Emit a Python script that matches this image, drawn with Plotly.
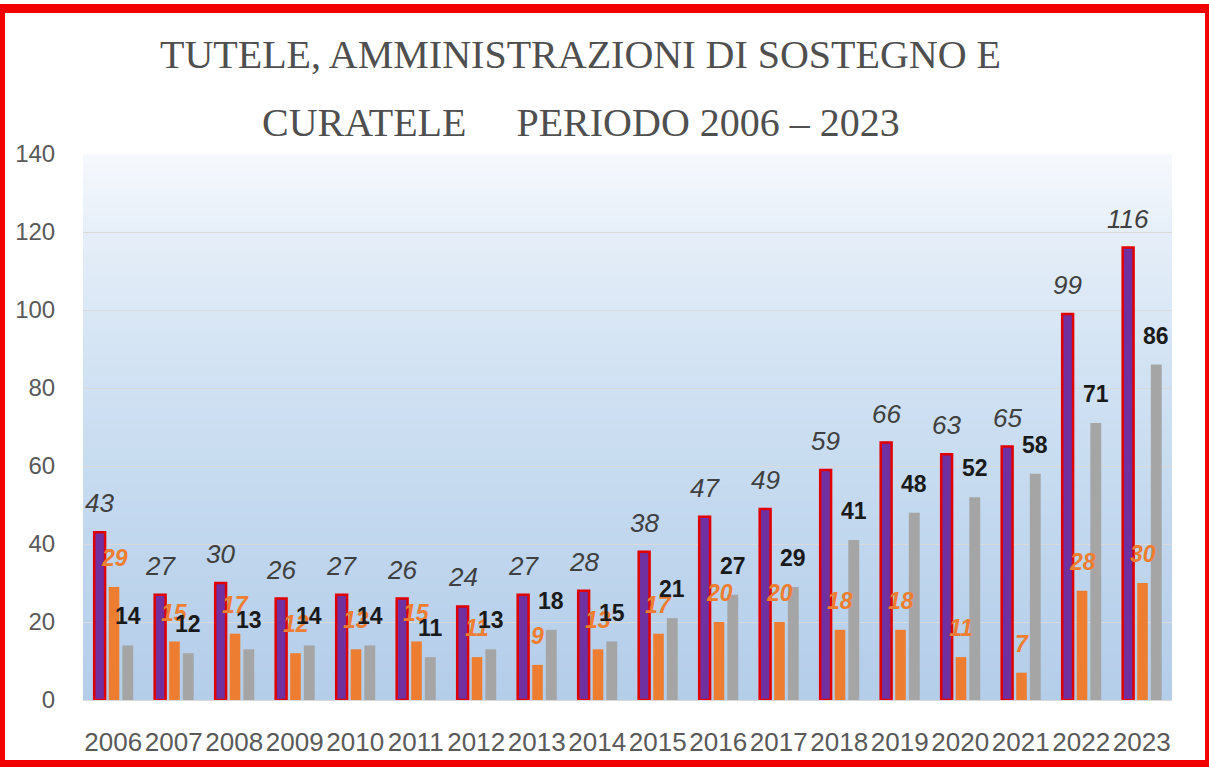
import base64
import struct
import zlib
import plotly.graph_objects as go

# ---------------- data ----------------
years = list(range(2006, 2024))
totale = [43, 27, 30, 26, 27, 26, 24, 27, 28, 38, 47, 49, 59, 66, 63, 65, 99, 116]
serie_arancio = [29, 15, 17, 12, 13, 15, 11, 9, 13, 17, 20, 20, 18, 18, 11, 7, 28, 30]
serie_grigia = [14, 12, 13, 14, 14, 11, 13, 18, 15, 21, 27, 29, 41, 48, 52, 58, 71, 86]
y_ticks = [0, 20, 40, 60, 80, 100, 120, 140]
x_tick_labels = [str(y) for y in years]
title_line1 = "TUTELE, AMMINISTRAZIONI DI SOSTEGNO E"
title_line2 = "CURATELE&nbsp;&nbsp;&nbsp;&nbsp;&nbsp;PERIODO 2006 – 2023"

# ---------------- geometry ----------------
W, H = 1209, 767
L, R, T, B = 83, 37, 154, 67
PW, PH = W - L - R, H - T - B


def px_x(px):
    return (px - L) / PW


def px_y(py):
    return (H - B - py) / PH


def gradient_png(stops, h=256, w=2):
    raw = b""
    for i in range(h):
        t = i / (h - 1)
        for j in range(len(stops) - 1):
            t0, c0 = stops[j]
            t1, c1 = stops[j + 1]
            if t0 <= t <= t1:
                f = (t - t0) / (t1 - t0) if t1 > t0 else 0
                col = [int(round(c0[k] + (c1[k] - c0[k]) * f)) for k in range(3)]
                break
        raw += b"\x00" + bytes(col) * w

    def chunk(tag, data):
        return (struct.pack(">I", len(data)) + tag + data
                + struct.pack(">I", zlib.crc32(tag + data) & 0xFFFFFFFF))

    png = (b"\x89PNG\r\n\x1a\n"
           + chunk(b"IHDR", struct.pack(">IIBBBBB", w, h, 8, 2, 0, 0, 0))
           + chunk(b"IDAT", zlib.compress(raw))
           + chunk(b"IEND", b""))
    return "data:image/png;base64," + base64.b64encode(png).decode()


bg_src = gradient_png([
    (0.0, (246, 249, 253)),
    (0.15, (229, 238, 248)),
    (0.4, (209, 226, 243)),
    (0.7, (193, 215, 238)),
    (1.0, (180, 205, 233)),
])

series = [
    dict(name="Totale", y=totale, color="#7030a0", line=dict(color="#e00000", width=2.5),
         offset=-0.315, width=0.18,
         font=dict(family="Liberation Sans", size=26, color="#404040"), fmt="<i>{}</i>"),
    dict(name="Serie 2", y=serie_arancio, color="#ed7d31", line=dict(width=0),
         offset=-0.075, width=0.175,
         font=dict(family="Liberation Sans", size=23, color="#ed7d31"), fmt="<b><i>{}</i></b>"),
    dict(name="Serie 3", y=serie_grigia, color="#a5a5a5", line=dict(width=0),
         offset=0.15, width=0.18,
         font=dict(family="Liberation Sans", size=23, color="#1a1a1a"), fmt="<b>{}</b>"),
]

fig = go.Figure()
annotations = []
for s in series:
    fig.add_trace(go.Bar(
        x=years, y=s["y"], name=s["name"],
        marker=dict(color=s["color"], line=s["line"]),
        offset=s["offset"], width=s["width"],
        hoverinfo="x+y",
    ))
    for yr, v in zip(years, s["y"]):
        annotations.append(dict(
            x=yr + s["offset"] + s["width"] / 2, y=v, xref="x", yref="y",
            text=s["fmt"].format(v),
            showarrow=False, yshift=29, yanchor="middle", xanchor="center",
            font=s["font"],
        ))

title_font = dict(family="Liberation Serif", size=40, color="#4f4f4f")
annotations.append(dict(x=px_x(580), y=px_y(55), xref="paper", yref="paper",
                        text=title_line1, showarrow=False, xanchor="center",
                        yanchor="middle", font=title_font))
annotations.append(dict(x=px_x(581), y=px_y(122), xref="paper", yref="paper",
                        text=title_line2, showarrow=False, xanchor="center",
                        yanchor="middle", font=title_font))

red = "#f20000"
frame_rects = [
    (0, 4, W, 13),      # top
    (0, 4, 5, H),       # left
    (W - 4, 4, W, H),   # right
    (0, H - 7, W, H),   # bottom
]
shapes = [
    dict(type="rect", xref="paper", yref="paper",
         x0=px_x(a), x1=px_x(c), y0=px_y(d), y1=px_y(b),
         fillcolor=red, line=dict(width=0), layer="above")
    for a, b, c, d in frame_rects
]

fig.update_layout(
    width=W, height=H, autosize=False,
    margin=dict(l=L, r=R, t=T, b=B, pad=0, autoexpand=False),
    paper_bgcolor="white", plot_bgcolor="white",
    showlegend=False,
    barmode="overlay",
    annotations=annotations,
    shapes=shapes,
    images=[dict(source=bg_src, xref="paper", yref="paper", x=0, y=1,
                 sizex=1, sizey=1, sizing="stretch", xanchor="left",
                 yanchor="top", layer="below", opacity=1)],
    xaxis=dict(
        type="linear", range=[years[0] - 0.5, years[-1] + 0.5],
        tickvals=years, ticktext=x_tick_labels, tickangle=0, automargin=False,
        showgrid=False, zeroline=False, showline=False,
        ticks="outside", ticklen=19, tickcolor="rgba(0,0,0,0)",
        tickfont=dict(family="Liberation Sans", size=26, color="#595959"),
        fixedrange=True,
    ),
    yaxis=dict(
        range=[0, 140], tickvals=y_ticks, ticktext=[str(v) for v in y_ticks],
        automargin=False,
        showgrid=True, gridcolor="#d9d9d9", gridwidth=1,
        zeroline=True, zerolinecolor="#d9d9d9", zerolinewidth=1,
        showline=False, ticks="outside", ticklen=22, tickcolor="rgba(0,0,0,0)",
        tickfont=dict(family="Liberation Sans", size=24, color="#595959"),
        fixedrange=True,
    ),
)

html = fig.to_html(full_html=True, include_plotlyjs=True,
                   config={"displayModeBar": False})
html = html.replace("<head>", "<head><style>html,body{margin:0;padding:0;overflow:hidden;}</style>", 1)
with open("out.html", "w", encoding="utf-8") as f:
    f.write(html)
